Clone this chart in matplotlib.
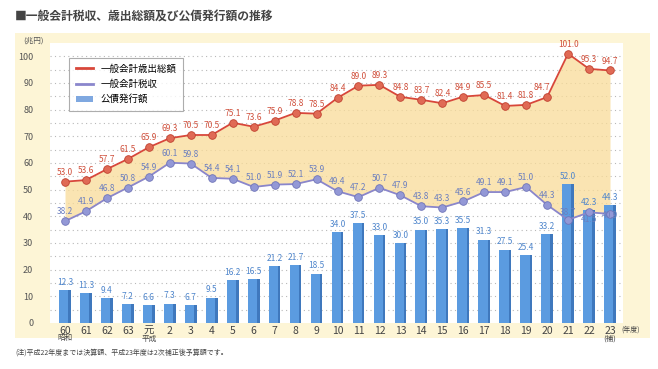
import matplotlib
matplotlib.use("Agg")
import matplotlib.pyplot as plt
from matplotlib.patches import Rectangle, Patch
from matplotlib.lines import Line2D
import numpy as np

plt.rcParams['font.family'] = ['Noto Sans CJK JP', 'DejaVu Sans']

years = ["60", "61", "62", "63", "元", "2", "3", "4", "5", "6", "7", "8", "9", "10",
         "11", "12", "13", "14", "15", "16", "17", "18", "19", "20", "21", "22", "23"]
sub_labels = {0: "昭和", 4: "平成", 26: "(補)"}
expenditure = [53.0, 53.6, 57.7, 61.5, 65.9, 69.3, 70.5, 70.5, 75.1, 73.6, 75.9, 78.8, 78.5,
               84.4, 89.0, 89.3, 84.8, 83.7, 82.4, 84.9, 85.5, 81.4, 81.8, 84.7, 101.0, 95.3, 94.7]
tax = [38.2, 41.9, 46.8, 50.8, 54.9, 60.1, 59.8, 54.4, 54.1, 51.0, 51.9, 52.1, 53.9,
       49.4, 47.2, 50.7, 47.9, 43.8, 43.3, 45.6, 49.1, 49.1, 51.0, 44.3, 38.7, 41.5, 40.9]
bonds = [12.3, 11.3, 9.4, 7.2, 6.6, 7.3, 6.7, 9.5, 16.2, 16.5, 21.2, 21.7, 18.5,
         34.0, 37.5, 33.0, 30.0, 35.0, 35.3, 35.5, 31.3, 27.5, 25.4, 33.2, 52.0, 42.3, 44.3]

title = "■一般会計税収、歳出総額及び公債発行額の推移"
note = "(注)平成22年度までは決算額、平成23年度は2次補正後予算額です。"
legend_labels = ["一般会計歳出総額", "一般会計税収", "公債発行額"]

W, H = 658, 369
fig = plt.figure(figsize=(W / 100, H / 100), dpi=100)
fig.patch.set_facecolor("white")

# pale yellow panel
fig.patches.append(Rectangle((15 / W, 1 - 338 / H), (650 - 15) / W, (338 - 33) / H,
                             transform=fig.transFigure, facecolor="#fdf5d6",
                             edgecolor="none", zorder=-10))

ax = fig.add_axes([50 / W, 1 - 323 / H, (623 - 50) / W, (323 - 43) / H])
ax.set_zorder(1)
ax.set_facecolor("white")
x = np.arange(len(years))

red = "#d8473a"
lav = "#8a86cc"
blue = "#5b9be0"
blue_dark = "#3f78bd"

# fill between lines
ax.fill_between(x, expenditure, tax, color="#f9dc98", alpha=0.75, zorder=1, lw=0)

# grid
for g in range(5, 105, 5):
    ax.axhline(g, color="#b8b8b8", lw=0.8, ls=(0, (1, 3)), zorder=0.5)

# bars with a darker side
bw = 0.56
ax.bar(x, bonds, width=bw, color=blue, zorder=2, edgecolor="none")
ax.bar(x + bw / 2 - 0.06, bonds, width=0.12, color=blue_dark, zorder=2.1, edgecolor="none")
for xi, v in zip(x, bonds):
    ax.text(xi, v + 1.2, f"{v:.1f}", ha="center", va="bottom", fontsize=6,
            color="#4f86cc", zorder=5)

# lines
ax.plot(x, expenditure, color=red, lw=1.3, marker="o", ms=5.5,
        mfc="#e06a55", mec="#c0402f", mew=0.6, zorder=4)
ax.plot(x, tax, color=lav, lw=1.3, marker="o", ms=5.5,
        mfc="#9398d6", mec="#6f74b8", mew=0.6, zorder=4)

exp_dx = {23: -0.25}
for xi, v in zip(x, expenditure):
    ax.text(xi + exp_dx.get(int(xi), 0), v + 1.8, f"{v:.1f}", ha="center", va="bottom",
            fontsize=6, color="#d0503c", zorder=5)
tax_off = {24: 1.1, 25: -4.3, 26: -2.4}
for xi, v in zip(x, tax):
    off = tax_off.get(int(xi), 1.8)
    ax.text(xi, v + off, f"{v:.1f}", ha="center", va="bottom", fontsize=6,
            color="#6c7fbf", zorder=5)

ax.set_xlim(-0.716, 26.62)
ax.set_ylim(0, 105)
ax.set_yticks(range(0, 101, 10))
ax.set_yticklabels([str(v) for v in range(0, 101, 10)], fontsize=6.5, color="#555555")
ax.set_xticks(x)
ax.set_xticklabels(years, fontsize=7.5, color="#444444")
ax.tick_params(length=0, pad=2)
ax.tick_params(axis="y", pad=12)
for s in ax.spines.values():
    s.set_visible(False)

for i, lab in sub_labels.items():
    ax.text(i, -4.3, lab, ha="center", va="top", fontsize=5.5, color="#444444", clip_on=False)
ax.text(26.55, -0.8, "(年度)", ha="left", va="top", fontsize=5, color="#444444", clip_on=False)
ax.text(-1.5, 104.5, "(兆円)", ha="center", va="bottom", fontsize=5.5, color="#555555",
        clip_on=False)

handles = [Line2D([0], [0], color=red, lw=2),
           Line2D([0], [0], color=lav, lw=2),
           Patch(facecolor="#7fa8e0", edgecolor="none")]
leg = ax.legend(handles, legend_labels, loc="upper left", bbox_to_anchor=(0.025, 0.965),
                fontsize=6.8, frameon=True, fancybox=False, handlelength=1.8,
                borderpad=0.7, labelspacing=0.6, handletextpad=0.8)
leg.get_frame().set_edgecolor("#999999")
leg.get_frame().set_linewidth(0.8)
leg.set_zorder(6)

fig.text(15 / W, 1 - 17 / H, title, fontsize=8.5, fontweight="bold", color="#444444",
         ha="left", va="center")
fig.text(15 / W, 1 - 353 / H, note, fontsize=5, color="#444444", ha="left", va="center")

fig.savefig("out.png", dpi=100)
